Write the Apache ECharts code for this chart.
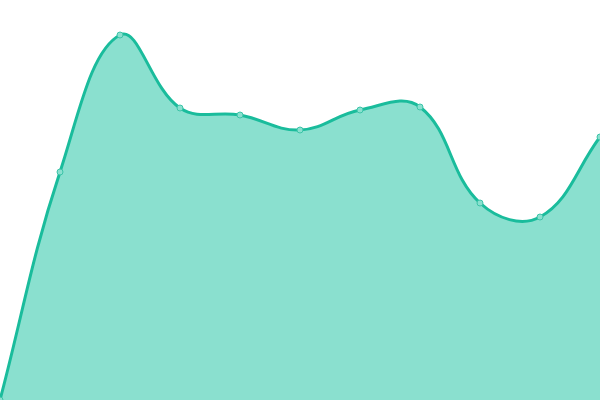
<!DOCTYPE html>
<html><head><meta charset="utf-8">
<script src="https://cdn.jsdelivr.net/npm/echarts@6/dist/echarts.min.js"></script>
<style>html,body{margin:0;padding:0;background:#fff}#c{width:600px;height:400px}</style>
</head><body><div id="c"></div>
<script>
const categories = ['1','2','3','4','5','6','7','8','9','10','11'];
const values = [0, 228, 365, 292, 285, 270, 290, 293, 197, 183, 263];
const tension = 0.4;

function cardinalPath(pts) {
  const n = pts.length;
  const cps = pts.map((p, i) => {
    const prev = pts[Math.max(0, i - 1)];
    const next = pts[Math.min(n - 1, i + 1)];
    const d01 = Math.hypot(p[0] - prev[0], p[1] - prev[1]);
    const d12 = Math.hypot(next[0] - p[0], next[1] - p[1]);
    let s01 = d01 / (d01 + d12 || 1);
    let s12 = d12 / (d01 + d12 || 1);
    const fa = tension * s01, fb = tension * s12;
    return {
      prev: [p[0] - fa * (next[0] - prev[0]), p[1] - fa * (next[1] - prev[1])],
      next: [p[0] + fb * (next[0] - prev[0]), p[1] + fb * (next[1] - prev[1])]
    };
  });
  let d = 'M' + pts[0][0] + ' ' + pts[0][1];
  for (let i = 1; i < n; i++) {
    const c1 = cps[i - 1].next, c2 = cps[i].prev;
    d += ' C' + c1[0] + ' ' + c1[1] + ' ' + c2[0] + ' ' + c2[1] + ' ' + pts[i][0] + ' ' + pts[i][1];
  }
  return d;
}

const chart = echarts.init(document.getElementById('c'));
chart.setOption({
  animation: false,
  grid: {left: 0, right: 0, top: 0, bottom: 0},
  xAxis: {type: 'category', data: categories, boundaryGap: false, show: false},
  yAxis: {type: 'value', min: 0, max: 400, show: false},
  series: [{
    type: 'custom',
    clip: false,
    data: values.map((v, i) => [i, v]),
    encode: {x: 0, y: 1},
    renderItem: function (params, api) {
      if (params.dataIndex !== 0) return null;
      const pts = values.map((v, i) => api.coord([i, v]));
      const base = api.coord([0, 0])[1];
      const line = cardinalPath(pts);
      const area = line + ' L' + pts[pts.length - 1][0] + ' ' + base + ' L' + pts[0][0] + ' ' + base + ' Z';
      return {
        type: 'group',
        children: [
          {type: 'path', shape: {pathData: area}, style: {fill: '#8ae0cf', stroke: null}},
          {type: 'path', shape: {pathData: line}, style: {fill: null, stroke: '#1abc9c', lineWidth: 3}}
        ]
      };
    }
  }, {
    type: 'scatter',
    data: values.map((v, i) => [i, v]),
    symbol: 'circle',
    symbolSize: 6,
    z: 5,
    itemStyle: {color: '#8ae0cf', borderColor: '#3cc4a8', borderWidth: 1, opacity: 1}
  }]
});
</script></body></html>
